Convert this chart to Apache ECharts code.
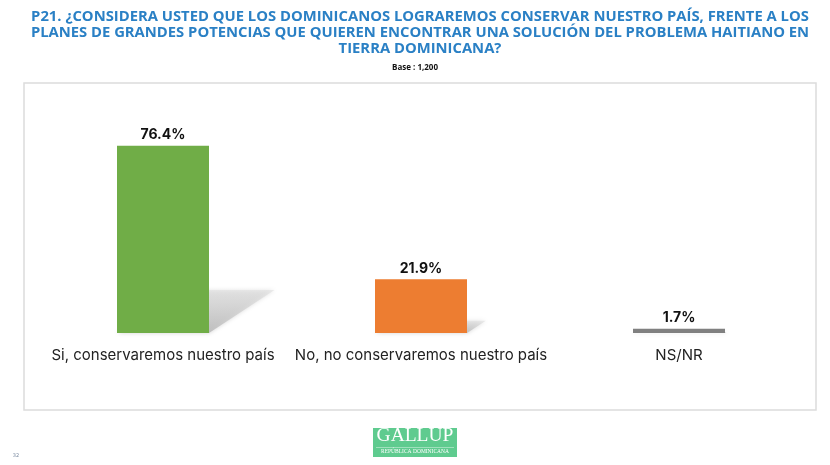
<!DOCTYPE html>
<html>
<head>
<meta charset="utf-8">
<script src="https://cdn.jsdelivr.net/npm/echarts@6/dist/echarts.min.js"></script>
<style>
html,body{margin:0;padding:0;background:#fff;}
#chart{width:830px;height:465px;}
</style>
</head>
<body>
<div id="chart"></div>
<script>
var titleText = 'P21. ¿CONSIDERA USTED QUE LOS DOMINICANOS LOGRAREMOS CONSERVAR NUESTRO PAÍS, FRENTE A LOS\nPLANES DE GRANDES POTENCIAS QUE QUIEREN ENCONTRAR UNA SOLUCIÓN DEL PROBLEMA HAITIANO EN\nTIERRA DOMINICANA?';
var subtitleText = 'Base : 1,200';
var categories = ['Si, conservaremos nuestro país', 'No, no conservaremos nuestro país', 'NS/NR'];
var values = [76.4, 21.9, 1.7];
var barColors = ['#70AD47', '#ED7D31', '#808080'];

var chart = echarts.init(document.getElementById('chart'));

var shadowData = values.map(function (v, i) { return [i, v]; });
var BAR_W = 92;

chart.setOption({
  animation: false,
  backgroundColor: '#fff',
  title: [{
    text: titleText,
    left: 415,
    top: 4,
    textAlign: 'center',
    textStyle: {
      fontFamily: 'Open Sans',
      fontWeight: 'bold',
      fontSize: 14.8,
      lineHeight: 16,
      color: '#2A80C5'
    }
  }, {
    text: subtitleText,
    left: 'center',
    top: 59,
    textStyle: {
      fontFamily: 'Open Sans',
      fontWeight: 'bold',
      fontSize: 8,
      color: '#111'
    }
  }],
  graphic: [
    {
      type: 'rect', silent: true, z: -10,
      shape: { x: 24, y: 83, width: 792, height: 327 },
      style: { fill: '#fff', stroke: '#dcdcdc', lineWidth: 1.5 }
    },
    {
      type: 'rect', silent: true,
      shape: { x: 373, y: 428, width: 84, height: 29 },
      style: { fill: '#5FCB8F' }
    },
    {
      type: 'text', silent: true,
      style: {
        x: 415, y: 446, text: 'GALLUP', fill: '#fff',
        font: '19.5px "Liberation Serif"', textAlign: 'center', textVerticalAlign: 'bottom'
      }
    },
    {
      type: 'rect', silent: true,
      shape: { x: 376, y: 447, width: 78, height: 0.6 },
      style: { fill: 'rgba(255,255,255,0.8)' }
    },
    {
      type: 'text', silent: true,
      style: {
        x: 415, y: 452, text: 'REPÚBLICA DOMINICANA', fill: '#fff',
        font: '5.5px "Liberation Serif"', textAlign: 'center', textVerticalAlign: 'middle'
      }
    },
    {
      type: 'text', silent: true,
      style: {
        x: 16, y: 456, text: '32', fill: '#7a8aa0',
        font: '5px "DejaVu Sans"', textAlign: 'center', textVerticalAlign: 'middle'
      }
    }
  ],
  grid: { left: 34, right: 22, top: 88, bottom: 132, containLabel: false },
  xAxis: {
    type: 'category',
    data: categories,
    axisLine: { show: false },
    axisTick: { show: false },
    axisLabel: {
      margin: 15,
      fontFamily: 'Inter',
      fontSize: 15,
      color: '#222',
      interval: 0
    }
  },
  yAxis: {
    type: 'value',
    min: 0,
    max: 100,
    show: false,
    splitLine: { show: false }
  },
  series: [
    {
      type: 'custom',
      z: 1,
      silent: true,
      data: shadowData,
      encode: { x: 0, y: 1 },
      renderItem: function (params, api) {
        var idx = api.value(0);
        var v = api.value(1);
        var base = api.coord([idx, 0]);
        var top = api.coord([idx, v]);
        var h = base[1] - top[1];
        var dy = h * 0.23, dx = h * 0.35;
        var xl = base[0] - BAR_W / 2, xr = base[0] + BAR_W / 2;
        return {
          type: 'polygon',
          shape: { points: [[xl, base[1]], [xr, base[1]], [xr + dx, base[1] - dy], [xl + dx, base[1] - dy]] },
          style: {
            fill: new echarts.graphic.LinearGradient(0, 1, 0, 0, [
              { offset: 0, color: 'rgba(185,185,185,0.85)' },
              { offset: 1, color: 'rgba(220,220,220,0.5)' }
            ]),
            shadowBlur: 4,
            shadowColor: 'rgba(190,190,190,0.8)'
          }
        };
      }
    },
    {
      type: 'bar',
      z: 2,
      barWidth: BAR_W,
      data: values.map(function (v, i) {
        return { value: v, itemStyle: { color: barColors[i] } };
      }),
      label: {
        show: true,
        position: 'top',
        distance: 4,
        formatter: function (p) { return p.value.toFixed(1) + '%'; },
        fontFamily: 'Inter',
        fontWeight: 'bold',
        fontSize: 14,
        color: '#111'
      }
    }
  ]
});
</script>
</body>
</html>
